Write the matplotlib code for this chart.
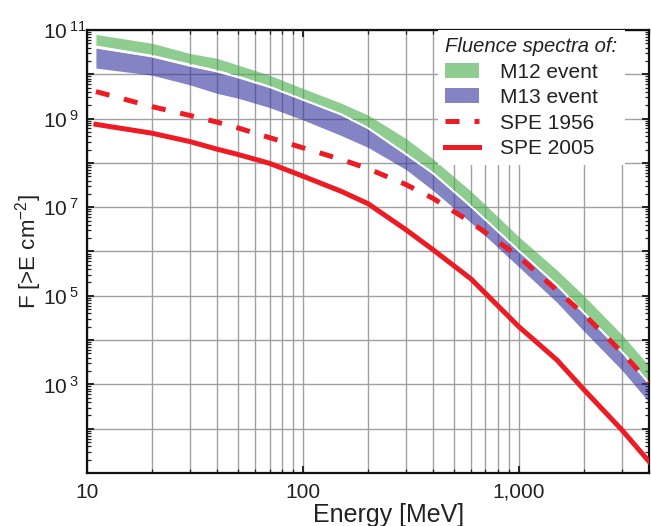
import numpy as np
import matplotlib.pyplot as plt
from matplotlib.ticker import LogLocator, FuncFormatter, NullFormatter

plt.rcParams.update({'font.family': 'Liberation Sans',
                     'mathtext.fontset': 'custom',
                     'mathtext.rm': 'Liberation Sans',
                     'mathtext.it': 'Liberation Sans:italic'})

# energy grid [MeV]
energy = [11, 20, 30, 40, 50, 70, 100, 150, 200, 300, 400, 600, 1000, 1500, 2000, 3000, 4000]

# log10 of integral fluence F(>E) [cm^-2]
m12_hi = [10.90, 10.70, 10.47, 10.36, 10.21, 9.98, 9.68, 9.35, 9.08, 8.55, 8.09, 7.36, 6.33, 5.58, 5.00, 4.12, 3.42]
m12_lo = [10.66, 10.45, 10.25, 10.11, 9.98, 9.75, 9.46, 9.13, 8.82, 8.23, 7.80, 7.05, 6.05, 5.27, 4.65, 3.77, 3.06]
m13_hi = [10.60, 10.40, 10.19, 10.06, 9.93, 9.71, 9.42, 9.09, 8.78, 8.19, 7.76, 7.01, 6.01, 5.23, 4.61, 3.73, 3.02]
m13_lo = [10.14, 9.98, 9.76, 9.57, 9.46, 9.25, 8.97, 8.62, 8.35, 7.85, 7.38, 6.65, 5.65, 4.85, 4.20, 3.32, 2.60]
spe1956 = [9.61, 9.27, 9.07, 8.92, 8.79, 8.57, 8.34, 8.08, 7.87, 7.51, 7.20, 6.66, 5.88, 5.12, 4.58, 3.72, 3.05]
spe2005 = [8.87, 8.67, 8.48, 8.31, 8.19, 7.99, 7.70, 7.36, 7.08, 6.49, 6.04, 5.38, 4.30, 3.55, 2.88, 1.97, 1.26]

x_ticks = [10, 100, 1000]

green = (0.27, 0.67, 0.27)
blue = (0.20, 0.20, 0.62)
red = '#ed1c24'
txt = '#222222'

E = np.array(energy)
F = lambda a: 10.0 ** np.array(a)

fig = plt.figure(figsize=(6.51, 5.26), dpi=100)
ax = fig.add_axes([0.1336, 0.1008, 0.8633, 0.8422])

ax.fill_between(E, F(m12_lo), F(m12_hi), color=green, alpha=0.6, lw=0, zorder=2, label='M12 event')
ax.fill_between(E, F(m13_lo), F(m13_hi), color=blue, alpha=0.6, lw=0, zorder=2, label='M13 event')
ax.plot(E, F(m13_hi), color='white', lw=1.2, zorder=2.5)
ax.plot(E, F(spe1956), color=red, lw=3.6, dashes=(2.8, 3.0), zorder=3, label='SPE 1956')
ax.plot(E, F(spe2005), color=red, lw=3.6, zorder=3, label='SPE 2005')

ax.set_xscale('log')
ax.set_yscale('log')
ax.set_xlim(10, 4000)
ax.set_ylim(1e1, 1e11)

ax.xaxis.set_major_locator(plt.FixedLocator(x_ticks))
ax.xaxis.set_major_formatter(FuncFormatter(lambda v, p: '{:,.0f}'.format(v)))
ax.xaxis.set_minor_locator(LogLocator(base=10, subs=np.arange(2, 10), numticks=20))
ax.xaxis.set_minor_formatter(NullFormatter())

def ylab(v, pos):
    e = int(round(np.log10(v)))
    return r'$10^{\;%d}$' % e if (e % 2 and e > 1) else ''

ax.yaxis.set_major_locator(LogLocator(base=10, numticks=20))
ax.yaxis.set_major_formatter(FuncFormatter(ylab))
ax.yaxis.set_minor_locator(LogLocator(base=10, subs=np.arange(2, 10), numticks=20))
ax.yaxis.set_minor_formatter(NullFormatter())

ax.set_axisbelow(True)
ax.grid(True, which='major', color='#a0a0a0', lw=1.0)
ax.grid(True, which='minor', axis='x', color='#a0a0a0', lw=1.0)

ax.tick_params(which='both', direction='in', top=True, right=True, labelsize=15, colors=txt)
ax.tick_params(which='major', length=5, width=1.4)
ax.tick_params(which='minor', length=3, width=0.9)
ax.tick_params(axis='x', pad=7)
ax.tick_params(axis='y', pad=31.5)
# y labels start at a common left edge
for t in ax.yaxis.get_major_ticks():
    t.label1.set_horizontalalignment('left')
for s in ax.spines.values():
    s.set_linewidth(1.6)
    s.set_color('#111111')

ax.set_xlabel('Energy [MeV]', fontsize=18, color=txt)
ax.xaxis.set_label_coords(0.536, -0.068)
ax.set_ylabel(r'F [>E cm$^{-2}$]', fontsize=16, color=txt)
ax.yaxis.set_label_coords(-0.076, 0.5)

leg = ax.legend(loc='upper right', bbox_to_anchor=(0.957, 1.0), borderaxespad=0,
                title='Fluence spectra of:', alignment='left',
                title_fontproperties={'style': 'italic', 'size': 14.6},
                fontsize=15, frameon=True, fancybox=False, framealpha=1,
                handlelength=1.6, handleheight=0.72, handletextpad=1.0,
                labelspacing=0.31, borderpad=0.35)
leg.get_frame().set_edgecolor('none')
leg.get_frame().set_facecolor('white')
leg.set_zorder(5)
for t in leg.get_texts():
    t.set_color(txt)
leg.get_title().set_color(txt)

fig.savefig('out.png', dpi=100)
